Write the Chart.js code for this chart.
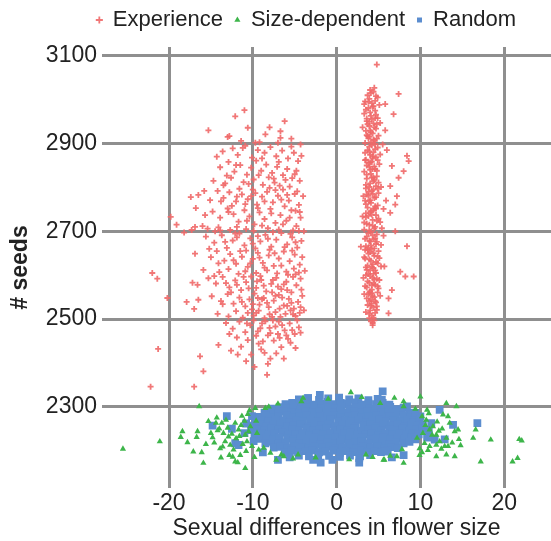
<!DOCTYPE html>
<html>
<head>
<meta charset="utf-8">
<script src="https://cdn.jsdelivr.net/npm/chart.js@4.4.1/dist/chart.umd.min.js"></script>
<style>
  html, body { margin: 0; padding: 0; background: #fff; overflow: hidden; }
  #wrap { width: 577px; height: 541px; }
</style>
</head>
<body>
<div id="wrap"><canvas id="seedChart" width="577" height="541"></canvas></div>
<script>
// axis ticks
const xTicks = [-20, -10, 0, 10, 20];
const yTicks = [2300, 2500, 2700, 2900, 3100];
const seriesNames = ['Experience', 'Size-dependent', 'Random'];

// Experience: wide cloud left of zero
const experienceLeft = [
  [-11.0,2976],[-12.1,2962],[-15.3,2930],[-12.8,2917],[-10.6,2936],[-8.0,2937],[-6.2,2951],[-6.7,2928],[-6.7,2913],[-4.3,2898],[-9.7,2902],[-9.2,2903],[-13.0,2915],[-11.4,2906],
  [-13.6,2882],[-12.4,2889],[-11.8,2874],[-10.9,2895],[-10.1,2868],[-9.4,2885],[-8.6,2879],[-7.9,2892],[-7.2,2871],[-6.5,2884],[-5.8,2866],[-5.1,2879],[-4.6,2860],[-4.2,2872],
  [-13.9,2846],[-12.9,2858],[-12.2,2836],[-11.5,2851],[-10.7,2829],[-10.2,2845],[-9.6,2861],[-9.0,2838],[-8.4,2852],[-7.7,2833],[-7.1,2847],[-6.4,2828],[-5.9,2842],[-5.3,2821],[-4.8,2838],[-4.4,2815],
  [-14.7,2815],[-13.3,2809],[-12.6,2822],[-11.1,2812],[-9.9,2818],[-8.8,2806],[-8.1,2823],[-7.4,2811],[-6.8,2804],[-6.1,2817],[-5.6,2802],[-15.8,2792],
  [-16.5,2783],[-15.1,2771],[-14.2,2792],[-13.5,2776],[-12.8,2789],[-12.0,2768],[-11.3,2784],[-10.6,2773],[-10.0,2795],[-9.5,2761],[-8.9,2779],[-8.3,2790],[-7.6,2766],[-7.0,2781],[-6.4,2795],[-5.7,2770],[-5.0,2785],[-4.5,2760],
  [-14.8,2745],[-13.9,2731],[-13.0,2752],[-12.3,2739],[-11.7,2722],[-11.0,2748],[-10.4,2734],[-9.8,2716],[-9.2,2743],[-8.6,2728],[-7.9,2751],[-7.3,2719],[-6.7,2737],[-6.0,2724],[-5.4,2748],[-4.8,2712],[-4.3,2731],
  [-16.0,2712],[-17.3,2703],[-15.4,2706],[-14.1,2709],[-12.7,2703],[-11.9,2710],[-10.8,2705],[-9.9,2701],[-8.2,2707],[-6.9,2704],[-5.2,2702],[-12.5,2758],[-9.4,2753],[-7.8,2741],[-6.2,2757],[-10.2,2780],[-8.0,2799],[-11.6,2797],[-13.8,2768],[-4.9,2747],
  [-15.6,2688],[-14.6,2674],[-13.7,2691],[-13.1,2662],[-12.4,2679],[-11.6,2695],[-11.0,2668],[-10.3,2684],[-9.7,2661],[-9.1,2677],[-8.5,2692],[-7.8,2665],[-7.2,2681],[-6.6,2696],[-5.9,2670],[-5.3,2686],[-4.7,2663],[-4.2,2678],
  [-16.9,2649],[-15.0,2641],[-14.3,2655],[-13.4,2633],[-12.7,2648],[-12.0,2626],[-11.3,2642],[-10.6,2619],[-10.0,2637],[-9.4,2651],[-8.8,2628],[-8.1,2645],[-7.5,2621],[-6.9,2638],[-6.3,2654],[-5.6,2632],[-5.0,2647],[-4.4,2624],
  [-15.9,2612],[-14.0,2607],[-12.9,2614],[-11.7,2603],[-10.9,2609],[-9.6,2605],[-8.3,2611],[-7.1,2604],[-6.0,2608],[-4.9,2602],[-13.9,2702],[-8.0,2658],[-10.8,2656],[-11.9,2686],
  [-17.4,2778],[-16.8,2753],[-19.8,2733],[-19.1,2715],[-16.9,2710],[-18.2,2697],[-22.0,2605],[-21.4,2592],[-17.2,2583],[-16.6,2578],[-20.2,2548],[-17.9,2539],[-17.0,2523],[-16.5,2544],[-21.3,2432],[-22.2,2346],[-17.0,2346],
  [-15.3,2593],[-14.4,2581],[-13.6,2596],[-12.8,2572],[-12.1,2588],[-11.4,2566],[-10.8,2584],[-10.2,2597],[-9.6,2571],[-9.0,2589],[-8.4,2563],[-7.8,2580],[-7.2,2594],[-6.6,2568],[-6.0,2585],[-5.4,2561],[-4.8,2577],[-4.3,2592],
  [-14.9,2552],[-13.8,2541],[-13.0,2557],[-12.3,2535],[-11.6,2549],[-10.9,2529],[-10.4,2545],[-9.8,2558],[-9.2,2533],[-8.7,2548],[-8.1,2527],[-7.5,2542],[-6.9,2555],[-6.3,2531],[-5.7,2546],[-5.1,2524],[-4.6,2539],[-4.1,2553],
  [-14.2,2512],[-12.9,2506],[-12.0,2518],[-11.2,2503],[-10.6,2514],[-9.9,2508],[-9.3,2519],[-8.6,2502],[-8.0,2511],[-7.3,2516],[-6.7,2505],[-6.1,2512],[-5.5,2520],[-4.9,2507],[-4.4,2514],
  [-9.5,2586],[-7.0,2574],[-5.2,2596],[-11.9,2578],[-8.9,2545],[-6.5,2549],[-10.1,2522],[-7.7,2561],[-5.9,2566],
  [-13.2,2491],[-12.4,2478],[-11.6,2494],[-10.9,2470],[-10.3,2486],[-9.6,2462],[-9.1,2479],[-8.5,2495],[-7.9,2468],[-7.3,2483],[-6.8,2457],[-6.2,2474],[-5.6,2490],[-5.0,2466],[-4.5,2481],
  [-11.9,2458],[-10.6,2452],[-8.8,2449],[-8.2,2463],[-7.6,2497],[-6.5,2486],[-5.8,2455],[-9.9,2497],[-12.8,2466],[-4.9,2434],
  [-14.1,2441],[-12.6,2428],[-11.4,2437],[-10.2,2419],[-9.0,2431],[-8.2,2398],[-8.3,2373],[-16.3,2415],[-15.9,2381],[-7.2,2422],[-6.3,2410],[-10.8,2404],
  [-11.2,2890],[-8.9,2866],[-6.9,2858],[-5.4,2893],[-12.0,2851],[-9.3,2828],[-7.5,2820],[-5.0,2830],[-10.5,2808],[-13.1,2827],
  [-11.9,2779],[-9.7,2787],[-7.3,2794],[-5.9,2783],[-4.7,2791],[-10.9,2762],[-8.6,2768],[-6.6,2772],[-4.4,2744],[-12.9,2744],
  [-10.7,2724],[-8.9,2713],[-6.4,2716],[-5.6,2731],[-12.1,2695],[-9.4,2689],[-7.6,2698],[-5.5,2694],[-4.5,2701],[-13.3,2676],
  [-10.0,2672],[-8.2,2683],[-6.2,2664],[-4.9,2675],[-11.5,2655],[-9.2,2640],[-7.4,2650],[-5.3,2656],[-4.1,2641],[-12.3,2634],
  [-10.3,2627],[-8.6,2617],[-6.6,2622],[-5.1,2615],[-11.1,2596],[-9.1,2598],[-7.6,2589],[-5.8,2601],[-4.5,2606],[-13.2,2582],
  [-10.5,2570],[-8.7,2576],[-6.3,2579],[-4.2,2567],[-12.6,2561],[-9.4,2548],[-7.3,2553],[-5.4,2537],[-4.3,2527],[-11.3,2539],
  [-10.0,2534],[-8.3,2537],[-6.8,2524],[-5.9,2530],[-9.6,2514],[-7.7,2505],[-5.2,2511],[-4.7,2497],[-8.9,2490],[-6.9,2494],
  [-5.3,2475],[-7.0,2466],[-9.4,2472],[-6.0,2463],[-4.3,2469],[-8.0,2480],[-10.7,2490],[-7.5,2451],[-5.5,2446],[-9.3,2444],
  [-6.6,2436],[-8.6,2423],[-11.8,2419],[-7.9,2410],[-9.8,2391],[-13.6,2534],[-14.6,2598],[-14.1,2627],[-15.2,2660],[-14.5,2700],
  [-15.7,2737],[-13.5,2805],[-14.3,2870],[-7.0,2902],[-5.4,2911],[-8.5,2921],[-3.9,2700],[-3.8,2610],[-3.9,2520],[-4.0,2780]
];

// Experience: narrow column right of zero
const experienceRight = [
  [4.8,3080],[4.0,3022],[4.4,3018],[3.7,3010],[4.9,3005],[3.4,2996],[4.2,2992],[5.1,2988],[3.8,2981],[4.6,2975],[3.3,2968],[4.1,2963],[4.9,2958],[3.6,2951],[4.4,2946],[3.9,2940],[4.7,2934],[3.5,2929],[4.3,2923],[5.0,2918],
  [3.8,2912],[4.5,2907],[3.4,2901],[4.2,2896],[4.9,2891],[3.7,2885],[4.4,2880],[4.0,2874],[4.7,2869],[3.5,2863],[4.2,2858],[5.1,2853],[3.9,2847],[4.6,2842],[3.3,2836],[4.1,2831],[4.8,2825],[3.6,2820],[4.4,2814],[4.0,2809],
  [4.7,2803],[3.5,2798],[4.2,2792],[5.0,2787],[3.8,2781],[4.5,2776],[3.4,2770],[4.1,2765],[4.9,2759],[3.7,2754],[4.4,2748],[4.0,2743],[4.7,2737],[3.5,2732],[4.3,2726],[5.2,2721],[3.9,2715],[4.6,2710],[3.3,2704],[4.1,2699],
  [4.8,2693],[3.6,2688],[4.4,2682],[4.0,2677],[4.7,2671],[3.5,2666],[4.2,2660],[5.0,2655],[3.8,2649],[4.5,2644],[3.4,2638],[4.1,2633],[4.9,2627],[3.7,2622],[4.4,2616],[4.0,2611],[4.7,2605],[3.5,2600],[4.3,2594],[5.1,2589],
  [3.9,2583],[4.6,2578],[3.6,2572],[4.2,2567],[4.9,2561],[3.8,2556],[4.5,2550],[4.1,2544],[4.7,2538],[3.7,2532],[4.4,2526],[4.0,2520],[4.6,2514],[4.2,2508],[3.9,2502],[4.5,2497],[4.3,2491],
  [4.5,3027],[3.9,3002],[4.6,2997],[4.0,2971],[3.6,2957],[4.8,2944],[4.1,2926],[3.7,2917],[4.6,2899],[3.9,2882],[5.2,2875],[4.3,2866],[3.6,2850],[4.8,2838],[4.2,2823],[3.5,2806],[4.9,2797],[4.3,2785],[3.9,2768],[4.6,2757],
  [3.5,2741],[5.0,2729],[4.3,2713],[3.8,2696],[4.6,2684],[5.3,2669],[4.0,2653],[3.3,2641],[4.7,2630],[4.2,2619],[3.8,2603],[4.8,2592],[4.4,2581],[3.4,2575],[4.0,2563],[5.2,2553],[3.9,2541],[4.8,2529],[3.5,2516],[4.2,2535],
  [4.9,2575],[3.6,2612],[5.1,2639],[4.5,2661],[3.9,2678],[4.2,2738],[3.8,2790],[4.5,2817],[4.0,2857],[4.4,2909],[3.9,2950],[4.3,2984],[3.4,2862],[3.3,2720],[3.2,2594],
  [4.1,3015],[4.7,3008],[3.8,2995],[4.4,2985],[3.5,2977],[4.7,2966],[4.2,2955],[3.7,2944],[4.5,2937],[4.0,2930],
  [3.6,2919],[4.8,2911],[4.1,2903],[3.9,2893],[4.6,2887],[3.4,2879],[4.3,2871],[4.9,2862],[3.8,2856],[4.5,2848],
  [4.0,2840],[3.6,2829],[4.4,2822],[5.0,2811],[3.9,2801],[4.4,2795],[3.6,2784],[4.7,2778],[4.0,2771],[3.5,2762],
  [4.5,2752],[4.1,2746],[3.8,2735],[4.8,2724],[3.6,2717],[4.5,2706],[3.9,2702],[4.3,2691],[3.4,2683],[4.8,2676],
  [4.1,2668],[3.7,2657],[4.4,2650],[4.9,2643],[3.9,2636],[4.3,2625],[3.5,2618],[4.6,2611],[4.0,2598],[4.5,2590],
  [3.7,2586],[4.2,2577],[5.0,2570],[3.9,2560],[4.3,2552],[3.6,2547],[4.6,2541],[4.1,2530],[4.8,2521],[3.9,2512],
  [4.4,2503],[4.1,2495],[4.3,2486],[4.6,2958],[3.9,2916],[4.3,2842],[4.7,2752],[3.8,2663],[4.4,2603],[4.2,2559],
  [5.3,2801],[5.4,2707],[3.2,2780],[5.3,2620],[3.3,2557],[5.5,2898],[3.3,2990],[5.2,2947],[5.6,2751],[3.4,2658],
  [7.4,3013],[6.8,2967],[8.4,2872],[8.6,2860],[6.6,2849],[8.0,2837],[7.4,2822],[6.4,2803],[7.2,2780],[7.0,2761],[6.4,2742],[7.0,2700],[8.4,2666],[7.6,2608],[8.2,2597],[9.2,2597],[6.6,2566],[6.2,2547],[6.2,2513],
  [3.1,2734],[3.1,2937],[5.8,2990],[6.0,2885],[5.7,2620],[5.9,2770],[5.6,2690],[2.9,2665],[5.8,2930]
];

// Size-dependent (green triangles)
const sizeDependent = [
  [-25.5,2204],[-21.1,2221],[-18.4,2244],[-18.6,2231],[-17.8,2219],[-17.1,2198],[-16.1,2196],[-15.9,2172],[-16.6,2244],[-16.7,2231],[-16.4,2301],[-15.3,2267],[-15.0,2240],[-14.4,2263],[-13.7,2263],
  [-13.5,2240],[-13.3,2221],[-12.7,2213],[-12.1,2175],[-11.8,2173],[-10.9,2160],[-11.3,2279],[-12.1,2263],[-12.3,2202],[-11.7,2248],[-10.9,2236],[-10.7,2221],[-10.1,2210],[-10.3,2255],[-9.7,2297],
  [-9.3,2202],[-8.7,2206],[-8.5,2297],[-7.2,2179],[-6.6,2191],[-4.2,2312],[1.7,2333],[5.2,2308],[6.4,2188],[5.6,2179],[7.2,2187],[8.0,2301],
  [10.0,2323],[9.6,2229],[10.2,2278],[10.7,2270],[11.1,2248],[11.5,2255],[11.9,2236],[13.1,2308],[13.3,2278],[12.7,2282],[13.5,2263],[14.1,2244],[13.1,2229],[12.9,2210],
  [12.3,2221],[11.9,2187],[13.1,2191],[14.1,2187],[11.1,2210],[10.5,2217],[16.6,2248],[16.3,2229],[18.4,2225],[17.2,2175],[21.0,2175],[21.6,2183],[21.8,2226],[22.1,2223],[14.3,2301],
  [14.6,2226],[14.5,2248],[11.9,2213],[13.3,2210],[8.0,2172],[5.7,2179],[3.5,2191],[-4.0,2320],[-4.6,2191],
  [-9.5,2240],[-7.9,2195],[-9.6,2268],[-10.4,2292],[-6.3,2187],[-5.2,2182],[-8.1,2300],[-7.0,2307],
  [9.9,2205],[10.3,2240],[7.8,2203],[9.4,2295],[10.8,2293],[6.9,2320],[8.0,2312],
  [-1.0,2318],[3.0,2322],[-2.5,2184],[1.5,2180],[4.3,2185],[-14.0,2250],[-12.9,2232],[-11.5,2190],[-14.6,2218],[-13.9,2205],[-11.0,2268],[10.2,2196],[12.0,2266],
  [-14.8,2230],[-14.2,2246],[-13.6,2209],[-13.0,2252],[-12.5,2238],[-12.0,2228],[-11.4,2258],[-11.2,2215],[-10.8,2199],[-10.5,2244],
  [-12.8,2190],[-14.3,2275],[-13.2,2270],[-10.6,2283],[-11.6,2233],[-15.6,2215],[-12.4,2186],[-13.8,2184],[-9.8,2185],
  [10.6,2258],[11.4,2236],[12.2,2245],[11.0,2285],[12.5,2204],[10.9,2201],[13.8,2218],[12.6,2250],[9.9,2190],[14.8,2212]
];

// Random (blue squares), dense blob around zero
const randomPts = [
  [-4.5,2317],[-3.4,2320],[-2.1,2316],[-1.0,2319],[0.3,2321],[1.5,2317],[2.6,2319],[3.8,2315],[4.9,2318],
  [-6.1,2306],[-5.3,2309],[-4.4,2307],[-3.6,2310],[-2.8,2305],[-1.9,2308],[-1.1,2311],[-0.3,2306],[0.5,2309],[1.3,2307],[2.2,2310],[3.0,2305],[3.8,2308],[4.7,2306],[5.5,2309],[6.3,2305],
  [-7.6,2296],[-6.8,2299],[-6.0,2297],[-5.1,2300],[-4.3,2295],[-3.5,2298],[-2.7,2301],[-1.8,2296],[-1.0,2299],[-0.2,2297],[0.6,2300],[1.5,2295],[2.3,2298],[3.1,2301],[3.9,2296],[4.8,2299],[5.6,2297],[6.4,2300],[7.2,2295],[8.0,2298],
  [-8.6,2287],[-7.8,2289],[-7.0,2286],[-6.2,2290],[-5.4,2288],[-4.5,2285],[-3.7,2289],[-2.9,2287],[-2.1,2290],[-1.2,2286],[-0.4,2288],[0.4,2291],[1.2,2286],[2.1,2289],[2.9,2287],[3.7,2290],[4.5,2285],[5.4,2288],[6.2,2291],[7.0,2286],[7.8,2289],[8.7,2287],
  [-9.3,2277],[-8.5,2280],[-7.7,2276],[-6.9,2279],[-6.0,2281],[-5.2,2276],[-4.4,2278],[-3.6,2280],[-2.8,2275],[-1.9,2279],[-1.1,2277],[-0.3,2280],[0.5,2276],[1.4,2279],[2.2,2281],[3.0,2276],[3.8,2278],[4.7,2280],[5.5,2275],[6.3,2279],[7.1,2277],[8.0,2280],[8.8,2276],[9.5,2278],
  [-9.7,2267],[-8.9,2269],[-8.1,2266],[-7.3,2270],[-6.4,2268],[-5.6,2265],[-4.8,2269],[-4.0,2267],[-3.1,2270],[-2.3,2266],[-1.5,2268],[-0.7,2271],[0.2,2266],[1.0,2269],[1.8,2267],[2.6,2270],[3.5,2265],[4.3,2268],[5.1,2271],[5.9,2266],[6.8,2269],[7.6,2267],[8.4,2270],[9.2,2265],[9.9,2268],
  [-10.0,2257],[-9.2,2260],[-8.4,2256],[-7.5,2259],[-6.7,2261],[-5.9,2256],[-5.1,2258],[-4.3,2260],[-3.4,2255],[-2.6,2259],[-1.8,2257],[-1.0,2260],[-0.1,2256],[0.7,2259],[1.5,2261],[2.3,2256],[3.2,2258],[4.0,2260],[4.8,2255],[5.6,2259],[6.5,2257],[7.3,2260],[8.1,2256],[8.9,2259],[9.7,2257],[10.3,2260],
  [-10.2,2247],[-9.4,2249],[-8.6,2246],[-7.8,2250],[-6.9,2248],[-6.1,2245],[-5.3,2249],[-4.5,2247],[-3.6,2250],[-2.8,2246],[-2.0,2248],[-1.2,2251],[-0.3,2246],[0.5,2249],[1.3,2247],[2.1,2250],[3.0,2245],[3.8,2248],[4.6,2251],[5.4,2246],[6.3,2249],[7.1,2247],[7.9,2250],[8.7,2245],[9.5,2248],[10.2,2250],
  [-9.8,2237],[-9.0,2240],[-8.2,2236],[-7.4,2239],[-6.5,2241],[-5.7,2236],[-4.9,2238],[-4.1,2240],[-3.2,2235],[-2.4,2239],[-1.6,2237],[-0.8,2240],[0.1,2236],[0.9,2239],[1.7,2241],[2.5,2236],[3.4,2238],[4.2,2240],[5.0,2235],[5.8,2239],[6.7,2237],[7.5,2240],[8.3,2236],[9.1,2239],[9.8,2237],
  [-9.2,2227],[-8.4,2229],[-7.6,2226],[-6.8,2230],[-5.9,2228],[-5.1,2225],[-4.3,2229],[-3.5,2227],[-2.6,2230],[-1.8,2226],[-1.0,2228],[-0.2,2231],[0.7,2226],[1.5,2229],[2.3,2227],[3.1,2230],[4.0,2225],[4.8,2228],[5.6,2231],[6.4,2226],[7.3,2229],[8.1,2227],[8.9,2230],[9.4,2226],
  [-8.5,2217],[-7.7,2220],[-6.9,2216],[-6.1,2219],[-5.2,2221],[-4.4,2216],[-3.6,2218],[-2.8,2220],[-1.9,2215],[-1.1,2219],[-0.3,2217],[0.5,2220],[1.4,2216],[2.2,2219],[3.0,2221],[3.8,2216],[4.7,2218],[5.5,2220],[6.3,2215],[7.1,2219],[8.0,2217],[8.7,2220],
  [-7.5,2207],[-6.7,2209],[-5.9,2206],[-5.0,2210],[-4.2,2208],[-3.4,2205],[-2.6,2209],[-1.7,2207],[-0.9,2210],[-0.1,2206],[0.7,2208],[1.6,2211],[2.4,2206],[3.2,2209],[4.0,2207],[4.9,2210],[5.7,2205],[6.5,2208],[7.3,2206],
  [-6.2,2197],[-5.4,2200],[-4.6,2196],[-3.7,2199],[-2.9,2201],[-2.1,2196],[-1.3,2198],[-0.4,2200],[0.4,2195],[1.2,2199],[2.0,2197],[2.9,2200],[3.7,2196],[4.5,2199],[5.3,2197],[6.1,2200],
  [-4.5,2189],[-3.3,2187],[-2.2,2190],[-0.9,2188],[0.4,2186],[1.6,2189],[2.8,2187],[4.0,2190],
  [-13.1,2279],[-14.8,2257],[-12.1,2217],[-10.1,2279],[-11.7,2213],[-7.0,2179],[-5.6,2185],[-3.4,2320],[-2.0,2327],[-2.8,2179],[-1.9,2173],[-0.5,2179],[5.5,2335],[5.4,2316],[2.7,2183],
  [2.7,2173],[5.8,2198],[6.6,2185],[8.4,2301],[9.4,2286],[11.3,2263],[12.3,2293],[13.9,2259],[16.8,2263],[11.7,2225],[12.9,2226],[10.0,2278],[-11.0,2240],[-12.5,2250],[11.0,2245],
  [-8.8,2196],[8.0,2190],[10.8,2230],[-10.8,2262],[-9.9,2222]
];

const toXY = pts => pts.map(([x, y]) => ({ x, y }));
const font = "'Liberation Sans', Arial, sans-serif";
const textColor = '#222';
const gridColor = '#8f8f8f';

// the legend sits a bit right of the canvas centre in the original
const legendShift = {
  id: 'legendShift',
  afterLayout(chart) {
    chart.legend.left += 18;
    chart.legend.right += 18;
  }
};

const ctx = document.getElementById('seedChart').getContext('2d');

const seedChart = new Chart(ctx, {
  type: 'scatter',
  data: {
    datasets: [
      {
        label: seriesNames[0],
        data: toXY(experienceLeft.concat(experienceRight)),
        pointStyle: 'cross',
        pointRadius: 3,
        borderWidth: 1.8,
        borderColor: 'rgba(240,104,104,0.9)',
        backgroundColor: 'rgba(240,104,104,0.9)'
      },
      {
        label: seriesNames[1],
        data: toXY(sizeDependent),
        pointStyle: 'triangle',
        pointRadius: 3.6,
        borderWidth: 0,
        backgroundColor: '#3db54a',
        borderColor: '#3db54a'
      },
      {
        label: seriesNames[2],
        data: toXY(randomPts),
        pointStyle: 'rect',
        pointRadius: 5.5,
        borderWidth: 0,
        backgroundColor: '#5b8dcf',
        borderColor: '#5b8dcf'
      }
    ]
  },
  plugins: [legendShift],
  options: {
    responsive: false,
    animation: false,
    events: [],
    layout: { padding: { left: 0, top: -3, right: 0, bottom: 0 } },
    plugins: {
      legend: {
        position: 'top',
        labels: {
          usePointStyle: true,
          boxWidth: 5,
          boxHeight: 5,
          padding: 12,
          color: textColor,
          font: { family: font, size: 22 }
        }
      },
      // empty title used only as a small gap under the legend
      title: {
        display: true,
        text: '',
        weight: 500,
        font: { size: 1, lineHeight: 1 },
        padding: { top: 5, bottom: 0 }
      },
      tooltip: { enabled: false }
    },
    scales: {
      x: {
        type: 'linear',
        min: -28,
        max: 28,
        afterBuildTicks: scale => { scale.ticks = xTicks.map(v => ({ value: v })); },
        afterFit: scale => { scale.height = 53; },
        grid: { color: gridColor, lineWidth: 3, drawTicks: false },
        border: { display: false },
        ticks: { padding: 2, maxRotation: 0, color: textColor, font: { family: font, size: 23 } },
        title: {
          display: true,
          text: 'Sexual differences in flower size',
          color: textColor,
          font: { family: font, size: 23, lineHeight: 1 },
          padding: { top: 0, bottom: 1 }
        }
      },
      y: {
        type: 'linear',
        min: 2115,
        max: 3120,
        afterBuildTicks: scale => { scale.ticks = yTicks.map(v => ({ value: v })); },
        afterFit: scale => { scale.width = 102; },
        grid: { color: gridColor, lineWidth: 3, drawTicks: false },
        border: { display: false },
        ticks: { padding: 5, color: textColor, font: { family: font, size: 23 }, callback: v => String(v) },
        title: {
          display: true,
          text: '# seeds',
          color: textColor,
          font: { family: font, size: 23, weight: 'bold' },
          padding: { top: 7, bottom: 0 }
        }
      }
    }
  }
});
</script>
</body>
</html>
